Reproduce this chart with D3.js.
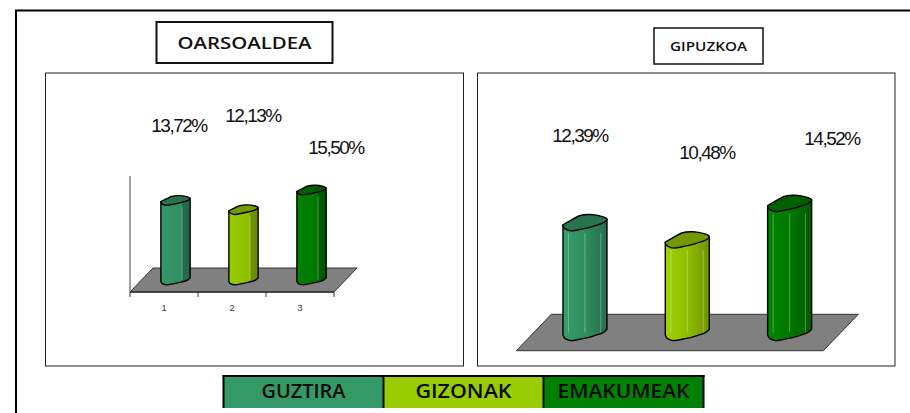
<!DOCTYPE html>
<html>
<head>
<meta charset="utf-8">
<title>Oarsoaldea / Gipuzkoa</title>
<script src="https://cdnjs.cloudflare.com/ajax/libs/d3/7.8.5/d3.min.js"></script>
<style>
  html, body { margin: 0; padding: 0; background: #fff; overflow: hidden; }
  svg { display: block; }
  .title { font-family: "Open Sans", sans-serif; font-weight: 600; fill: #111; text-anchor: middle; }
  .value-label { font-family: "Liberation Sans", Arial, sans-serif; font-size: 19px; letter-spacing: -1.5px; fill: #111; text-anchor: middle; }
  .legend-label { font-family: "Open Sans", sans-serif; font-weight: 600; font-size: 19px; fill: #0a0a0a; text-anchor: middle; }
  .tick text { font-family: "Liberation Sans", Arial, sans-serif; font-size: 9px; fill: #333; }
</style>
</head>
<body>
<div id="chart-area"></div>
<script>
const categories = ["1", "2", "3"];
const seriesNames = ["GUZTIRA", "GIZONAK", "EMAKUMEAK"];
const seriesColors = ["#339966", "#99cc00", "#008000"];
const oarsoaldeaValues = [13.72, 12.13, 15.50];
const gipuzkoaValues = [12.39, 10.48, 14.52];

const width = 910;
const height = 413;
const valueDomain = [0, 20];
// the legend text is stretched wide in the picture
const legendTextWidths = [84, 96, 132];

const fmt = d3.formatLocale({ decimal: ",", thousands: ".", grouping: [3], currency: ["", ""] }).format(".2f");

// outline of a column top, u/v from -1 to 1 (the columns in the picture are lumpy, not real ellipses)
const capShape = [
  [-1, 0.3], [-0.7, -0.2], [-0.25, -0.85], [0.25, -1], [0.8, -0.75], [1, -0.4],
  [0.8, 0.05], [0.3, 0.5], [-0.1, 0.75], [-0.6, 1], [-0.9, 0.75]
];
const lowerEdge = [[-1, 0.3], [-0.9, 0.75], [-0.6, 1], [-0.1, 0.75], [0.3, 0.5], [0.8, 0.05], [1, -0.4]];

const panels = [
  {
    id: "oarso", title: "OARSOALDEA", values: oarsoaldeaValues,
    box: [45.5, 73, 418, 293],
    titleBox: [156.5, 22, 176, 41], titleSize: 17, titleY: 49, titleWidth: 134,
    front: [130, 334], backY: 268, frontY: 292, depth: 23,
    yRange: [280, 164], capRy: 4.8, showAxis: true,
    labelPos: [[179, 132], [253, 122], [336, 154]],
    highlights: [0.45],
    shades: [[0, 0], [0.71, 0.2], [0.72, 0.9], [1, 1.1]]
  },
  {
    id: "gipuz", title: "GIPUZKOA", values: gipuzkoaValues,
    box: [477.5, 73, 417.5, 293],
    titleBox: [654, 28, 109, 36], titleSize: 13, titleY: 51, titleWidth: 77,
    front: [516.3, 823.3], backY: 314.3, frontY: 350.7, depth: 35,
    yRange: [334.6, 154], capRy: 8.2, showAxis: false,
    labelPos: [[580, 142], [707, 159], [832, 145]],
    highlights: [-0.75, 0, 0.72],
    shades: [[0, -0.1], [0.5, 0.2], [1, 0.9]]
  }
];

const svg = d3.select("#chart-area")
  .append("svg")
    .attr("width", width)
    .attr("height", height);

const defs = svg.append("defs");

// outer frame: only top and left are in the picture
svg.append("path")
  .attr("d", `M16,${height}V10.5H${width}`)
  .attr("fill", "none")
  .attr("stroke", "#000")
  .attr("stroke-width", 2);

panels.forEach(drawPanel);
drawLegend();

function drawPanel(p) {
  const g = svg.append("g").attr("class", p.id);

  g.append("rect")
    .attr("x", p.box[0]).attr("y", p.box[1])
    .attr("width", p.box[2]).attr("height", p.box[3])
    .attr("fill", "#fff")
    .attr("stroke", "#222");

  g.append("rect")
    .attr("x", p.titleBox[0]).attr("y", p.titleBox[1])
    .attr("width", p.titleBox[2]).attr("height", p.titleBox[3])
    .attr("fill", "#fff")
    .attr("stroke", "#111")
    .attr("stroke-width", p.showAxis ? 2 : 1.5);

  g.append("text")
    .attr("class", "title")
    .attr("x", p.titleBox[0] + p.titleBox[2] / 2)
    .attr("y", p.titleY)
    .attr("textLength", p.titleWidth)
    .attr("lengthAdjust", "spacingAndGlyphs")
    .style("font-size", `${p.titleSize}px`)
    .text(p.title);

  const xScale = d3.scaleBand()
    .domain(categories)
    .range(p.front)
    .paddingInner(0.57)
    .paddingOuter(0.285);

  const yScale = d3.scaleLinear()
    .domain(valueDomain)
    .range(p.yRange);

  const [x0, x1] = p.front;
  const floorMid = (p.backY + p.frontY) / 2;

  g.append("path")
    .attr("d", `M${x0},${p.frontY}L${x0 + p.depth * 1.0},${p.backY}H${x1 + p.depth}L${x1},${p.frontY}Z`)
    .attr("fill", "#808080")
    .attr("stroke", "#333");

  if (p.showAxis) {
    const xAxis = d3.axisBottom(xScale).tickSize(0).tickPadding(13);
    const axisG = g.append("g")
      .attr("transform", `translate(0,${p.frontY})`)
      .call(xAxis);
    axisG.select(".domain").remove();

    g.append("line")
      .attr("x1", x0).attr("x2", x1)
      .attr("y1", p.frontY).attr("y2", p.frontY)
      .attr("stroke", "#333").attr("stroke-width", 1.5);

    g.append("line")
      .attr("x1", x0).attr("x2", x0)
      .attr("y1", p.frontY).attr("y2", yScale(valueDomain[1]) + (p.frontY - floorMid))
      .attr("stroke", "#444");

    g.selectAll(".edge-tick")
      .data(d3.range(categories.length + 1))
      .enter()
      .append("line")
      .attr("class", "edge-tick")
      .attr("x1", d => x0 + d * xScale.step())
      .attr("x2", d => x0 + d * xScale.step())
      .attr("y1", p.frontY)
      .attr("y2", p.frontY + 5)
      .attr("stroke", "#333");
  }

  const capLine = d3.line().curve(d3.curveCardinalClosed.tension(0.3));
  const edgeLine = d3.line().curve(d3.curveCardinal.tension(0.3));
  const hw = xScale.bandwidth() / 2;

  p.values.forEach((v, i) => {
    const cx = xScale(categories[i]) + hw + p.depth / 2;
    const topY = yScale(v);
    const color = seriesColors[i];
    const gradId = `${p.id}-grad-${i}`;

    const grad = defs.append("linearGradient").attr("id", gradId);
    p.shades.forEach(s => {
      grad.append("stop")
        .attr("offset", s[0])
        .attr("stop-color", s[1] < 0 ? d3.color(color).brighter(-s[1]) : d3.color(color).darker(s[1]));
    });

    const pt = (cy, q) => [cx + q[0] * hw, cy + q[1] * p.capRy];
    const bottom = edgeLine(lowerEdge.map(q => pt(floorMid, q)));
    const topLeft = pt(topY, lowerEdge[0]);
    const topRight = pt(topY, lowerEdge[lowerEdge.length - 1]);

    g.append("path")
      .attr("d", `M${topLeft}${bottom.replace("M", "L")}L${topRight}Z`)
      .attr("fill", `url(#${gradId})`)
      .attr("stroke", "#000")
      .attr("stroke-width", 1.4);

    p.highlights.forEach(h => {
      g.append("line")
        .attr("x1", cx + h * hw).attr("x2", cx + h * hw)
        .attr("y1", topY + p.capRy + 2).attr("y2", floorMid)
        .attr("stroke", "#fff")
        .attr("stroke-opacity", 0.3);
    });

    g.append("path")
      .attr("d", capLine(capShape.map(q => pt(topY, q))))
      .attr("fill", d3.color(color).darker(0.8))
      .attr("stroke", "#000")
      .attr("stroke-width", 1.4);

    g.append("text")
      .attr("class", "value-label")
      .attr("x", p.labelPos[i][0])
      .attr("y", p.labelPos[i][1])
      .text(`${fmt(v)}%`);
  });
}

function drawLegend() {
  const legendX = d3.scaleBand()
    .domain(seriesNames)
    .range([223.5, 703.5]);
  const top = 376;
  const bottom = 408;

  const legend = svg.append("g").attr("class", "legend");

  seriesNames.forEach((name, i) => {
    legend.append("rect")
      .attr("x", legendX(name))
      .attr("y", top)
      .attr("width", legendX.bandwidth())
      .attr("height", bottom - top)
      .attr("fill", seriesColors[i]);

    legend.append("text")
      .attr("class", "legend-label")
      .attr("x", legendX(name) + legendX.bandwidth() / 2)
      .attr("y", 398)
      .attr("textLength", legendTextWidths[i])
      .attr("lengthAdjust", "spacingAndGlyphs")
      .text(name);
  });

  // black lines on top and between cells, no line underneath
  const edges = [...seriesNames.map(d => legendX(d)), legendX.range()[1]];
  legend.selectAll(".divider")
    .data(edges)
    .enter()
    .append("line")
    .attr("class", "divider")
    .attr("x1", d => d).attr("x2", d => d)
    .attr("y1", top - 1).attr("y2", bottom)
    .attr("stroke", "#000")
    .attr("stroke-width", 2);

  legend.append("line")
    .attr("x1", legendX.range()[0] - 1).attr("x2", legendX.range()[1] + 1)
    .attr("y1", top).attr("y2", top)
    .attr("stroke", "#000")
    .attr("stroke-width", 2);
}
</script>
</body>
</html>
